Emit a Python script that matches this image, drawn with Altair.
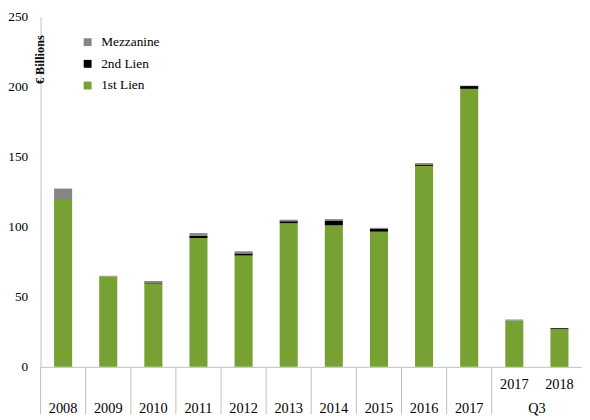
import altair as alt
import pandas as pd

categories = ["2008", "2009", "2010", "2011", "2012", "2013", "2014", "2015",
              "2016", "2017", "Q3 2017", "Q3 2018"]
first_lien = [120, 64.5, 59.5, 92, 79.5, 102.5, 101, 96.5, 143.5, 198.5, 33, 27]
second_lien = [0.3, 0, 0.3, 1.5, 1.5, 1.5, 3.5, 2, 1, 2, 0, 0.6]
mezzanine = [7, 0.5, 1.5, 2, 1.5, 1, 1, 0.8, 1, 0.3, 0.8, 0]
series = ["Mezzanine", "2nd Lien", "1st Lien"]
colors = ["#858585", "#000000", "#77A132"]

annual = categories[:10]
q3_years = ["2017", "2018"]
group_label = "Q3"

rows = []
for i, c in enumerate(categories):
    rows.append({"cat": c, "series": "1st Lien", "value": first_lien[i], "ord": 0})
    rows.append({"cat": c, "series": "2nd Lien", "value": second_lien[i], "ord": 1})
    rows.append({"cat": c, "series": "Mezzanine", "value": mezzanine[i], "ord": 2})
df = pd.DataFrame(rows)

W, H = 549, 355
FONT = "Liberation Serif"
GRAY = "#BFBFBF"

xscale = alt.Scale(domain=categories, paddingInner=0, paddingOuter=0)

bars = alt.Chart(df).mark_bar(width=alt.RelativeBandSize(0.4)).encode(
    x=alt.X("cat:N", scale=xscale, sort=categories,
            axis=alt.Axis(labels=False, ticks=False, title=None, domainColor=GRAY)),
    y=alt.Y("value:Q", stack="zero",
            scale=alt.Scale(domain=[0, 250], nice=False),
            axis=alt.Axis(values=[0, 50, 100, 150, 200, 250], grid=False, ticks=False,
                          labelPadding=13, labelFont=FONT, labelFontSize=13.5,
                          labelColor="#000", domainColor=GRAY,
                          title="€ Billions", titleFont=FONT, titleFontSize=12.5,
                          titleFontWeight="bold", titleColor="#000",
                          titleX=-1, titleY=43, titleAngle=270,
                          titleAlign="center", titleBaseline="middle")),
    color=alt.Color("series:N", scale=alt.Scale(domain=series, range=colors),
                    legend=alt.Legend(orient="none", legendX=41, legendY=19, title=None,
                                      symbolType="square", symbolSize=64,
                                      symbolStrokeWidth=0, labelFont=FONT,
                                      labelFontSize=13.5, labelColor="#000",
                                      labelOffset=7, rowPadding=7)),
    order=alt.Order("ord:Q"),
)

sep_df = pd.DataFrame({"cat": annual + ["Q3 2017"]})
seps = alt.Chart(sep_df).mark_rule(color=GRAY, strokeWidth=1).encode(
    x=alt.X("cat:N", scale=xscale, sort=categories, bandPosition=0),
    y=alt.value(H),
    y2=alt.value(H + 48),
)

ann_df = pd.DataFrame({"cat": annual, "label": annual})
ann_text = alt.Chart(ann_df).mark_text(font=FONT, fontSize=14.5, color="#000",
                                       baseline="middle").encode(
    x=alt.X("cat:N", scale=xscale, sort=categories),
    y=alt.value(H + 43),
    text="label:N",
)

q3_df = pd.DataFrame({"cat": categories[10:], "label": q3_years})
q3_text = alt.Chart(q3_df).mark_text(font=FONT, fontSize=14.5, color="#000",
                                     baseline="middle").encode(
    x=alt.X("cat:N", scale=xscale, sort=categories),
    y=alt.value(H + 18),
    text="label:N",
)

grp_df = pd.DataFrame({"cat": ["Q3 2017"], "label": [group_label]})
grp_text = alt.Chart(grp_df).mark_text(font=FONT, fontSize=14.5, color="#000",
                                       baseline="middle").encode(
    x=alt.X("cat:N", scale=xscale, sort=categories, bandPosition=1),
    y=alt.value(H + 43),
    text="label:N",
)

chart = alt.layer(bars, seps, ann_text, q3_text, grp_text).properties(
    width=W, height=H,
    autosize=alt.AutoSizeParams(type="none"),
    padding={"left": 33, "top": 6, "right": 0, "bottom": 50},
).configure_view(stroke=None)

chart.save("out.html", embed_options={"renderer": "svg", "actions": False})
